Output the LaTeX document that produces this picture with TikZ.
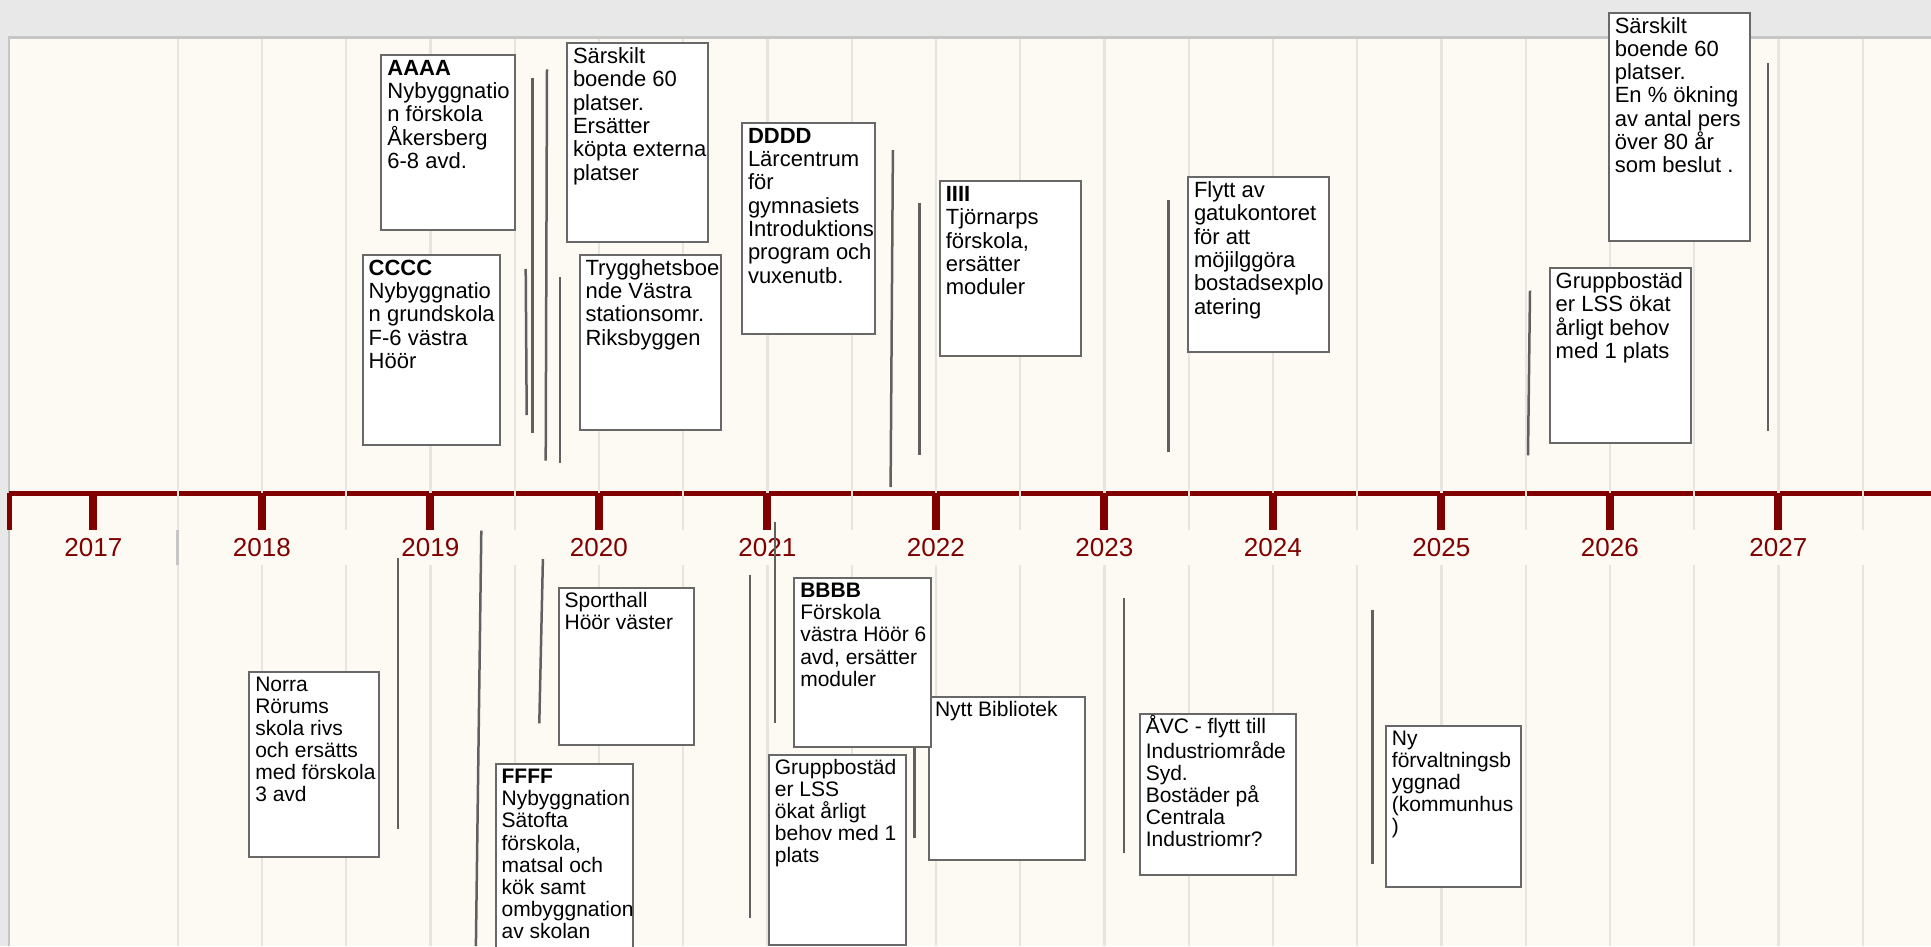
\documentclass[tikz,border=0pt]{standalone}
\usepackage{fontspec}
\setmainfont{Liberation Sans}
\usetikzlibrary{positioning}
\definecolor{axisred}{RGB}{128,0,0}
\definecolor{band}{RGB}{232,232,232}
\definecolor{paper}{RGB}{253,250,243}
\definecolor{gridgrey}{RGB}{232,229,225}
\definecolor{framegrey}{RGB}{198,198,198}
\definecolor{boxgrey}{RGB}{104,104,104}
\definecolor{spangrey}{RGB}{96,96,96}
\tikzstyle{event}=[rectangle, draw=boxgrey, fill=white, line width=2pt, anchor=north west, inner xsep=0pt, inner ysep=4pt, font=\fontsize{22}{23.3}\selectfont]
\tikzstyle{eventlow}=[event, font=\fontsize{21}{22.1}\selectfont]
\tikzstyle{spanline}=[draw=spangrey, line width=2.5pt]
\tikzstyle{gridline}=[draw=gridgrey, line width=2.3pt]
\tikzstyle{axisline}=[draw=axisred, line width=5.3pt]
\tikzstyle{yeartick}=[draw=axisred, line width=8pt]
\tikzstyle{yearlbl}=[text=axisred, inner sep=0pt, font=\fontsize{26}{30}\selectfont]
% box text: width, height, lines
\newcommand{\evtext}[3]{\hspace*{6pt}\parbox[t][\dimexpr#2pt-8pt\relax][t]{\dimexpr#1pt-6pt\relax}{\hyphenpenalty=10000\exhyphenpenalty=10000\raggedright\strut#3}}

\begin{document}
\begin{tikzpicture}[x=1pt,y=-1pt]
    %page, background and frame
    \useasboundingbox (0,0) rectangle (1931,946);
    \fill[band] (0,0) rectangle (1931,946);
    \fill[paper] (9,37.7) rectangle (1931,946);
    \draw[framegrey, line width=2.5pt] (9,946) -- (9,37.7) -- (1931,37.7);
    %time axis with half year grid
    \draw[axisline] (9,493.3) -- (1931,493.3);
    \foreach \k in {1,...,21}{
        \pgfmathsetmacro\gx{93.4+\k*84.25}
        \draw[gridline] (\gx,39) -- (\gx,530);
        \draw[gridline] (\gx,565) -- (\gx,946);
    }
    \draw[framegrey, line width=2.5pt] (177.6,530) -- (177.6,565);
    \draw[yeartick, line width=5pt] (9.3,493.3) -- (9.3,530);
    \foreach \yr in {2017,...,2027}{
        \pgfmathsetmacro\xx{93.4+(\yr-2017)*168.5}
        \coordinate (t\yr) at (\xx,530);
        \draw[yeartick] (\xx,493.3) -- (t\yr);
        \node[yearlbl, below=8pt of t\yr](y\yr){\yr};
    }
    %spans above the axis
    \draw[spanline] (532.3,77.7) -- (532.3,433);
    \draw[spanline] (547,69.3) -- (545.7,460.7);
    \draw[spanline] (525.7,269) -- (526.7,415);
    \draw[spanline] (560,277) -- (560,462.7);
    \draw[spanline] (892.9,150) -- (890.6,487);
    \draw[spanline] (919.6,203) -- (919.6,455);
    \draw[spanline] (1168.3,200) -- (1168.3,451.7);
    \draw[spanline] (1530,290.7) -- (1528,455.3);
    \draw[spanline] (1768,63.3) -- (1768,430.7);
    %spans below the axis
    \draw[spanline] (398.2,558.3) -- (398.2,829.3);
    \draw[spanline] (481.3,530.7) -- (475.9,946);
    \draw[spanline] (542.9,559) -- (539.3,723.3);
    \draw[spanline] (750,575) -- (750,918.3);
    \draw[spanline] (775,521.7) -- (775,723.3);
    \draw[spanline] (914.3,746) -- (914.3,837.7);
    \draw[spanline] (1124,597.7) -- (1124,852.7);
    \draw[spanline] (1372.3,609.7) -- (1372.3,864.3);
    %events above the axis
    \node[event](aaaa) at (380.4,54) {\evtext{133.4}{175}{\textbf{AAAA}\\Nybyggnatio\\n förskola\\Åkersberg\\6-8 avd.}};
    \node[event](cccc) at (361.7,254) {\evtext{137.3}{190}{\textbf{CCCC}\\Nybyggnatio\\n~grundskola\\F-6 västra\\Höör}};
    \node[event](sar1) at (566,42.3) {\evtext{140.7}{198.4}{Särskilt\\boende 60\\platser.\\Ersätter\\köpta~externa\\platser}};
    \node[event](trygg) at (578.6,254) {\evtext{141.4}{175}{Trygghetsboe\\nde Västra\\stationsomr.\\Riksbyggen}};
    \node[event](dddd) at (741,122) {\evtext{132.7}{211.3}{\textbf{DDDD}\\Lärcentrum\\för\\gymnasiets\\Introduktions\\program~och\\vuxenutb.}};
    \node[event](iiii) at (938.8,180.3) {\evtext{141.1}{174.4}{\textbf{IIII}\\Tjörnarps\\förskola,\\ersätter\\moduler}};
    \node[event](flytt) at (1187,176.3) {\evtext{141}{174.4}{Flytt av\\gatukontoret\\för att\\möjilggöra\\bostadsexplo\\atering}};
    \node[event](sar2) at (1607.8,11.7) {\evtext{141.2}{228.3}{Särskilt\\boende 60\\platser.\\En \% ökning\\av antal pers\\över 80 år\\som beslut .}};
    \node[event](grp1) at (1548.7,267.3) {\evtext{141.6}{175}{Gruppbostäd\\er LSS ökat\\årligt behov\\med 1 plats}};
    %events below the axis
    \node[eventlow](norra) at (248.3,671) {\evtext{130}{185}{Norra\\Rörums\\skola rivs\\och ersätts\\med~förskola\\3 avd}};
    \node[eventlow](sport) at (557.6,587) {\evtext{135.3}{157.3}{Sporthall\\Höör väster}};
    \node[eventlow](ffff) at (494.6,763.3) {\evtext{137.1}{200}{\textbf{FFFF}\\Nybyggnation\\Sätofta\\förskola,\\matsal och\\kök samt\\ombyggnation\\av skolan}};
    \node[eventlow](bibl) at (928,696) {\evtext{156}{162.7}{Nytt Bibliotek}};
    \node[eventlow](bbbb) at (793.3,577.3) {\evtext{137.1}{168.7}{\textbf{BBBB}\\Förskola\\västra~Höör~6\\avd,~ersätter\\moduler}};
    \node[eventlow](grp2) at (767.9,754) {\evtext{137}{190}{Gruppbostäd\\er LSS\\ökat årligt\\behov~med~1\\plats}};
    \node[eventlow](avc) at (1138.8,713.3) {\evtext{155.8}{161}{\smash{Å}VC - flytt till\\Industriområde\\Syd.\\Bostäder på\\Centrala\\Industriomr?}};
    \node[eventlow](forv) at (1384.9,725) {\evtext{135.2}{161}{Ny\\förvaltningsb\\yggnad\\(kommunhus\\)}};
\end{tikzpicture}
\end{document}
